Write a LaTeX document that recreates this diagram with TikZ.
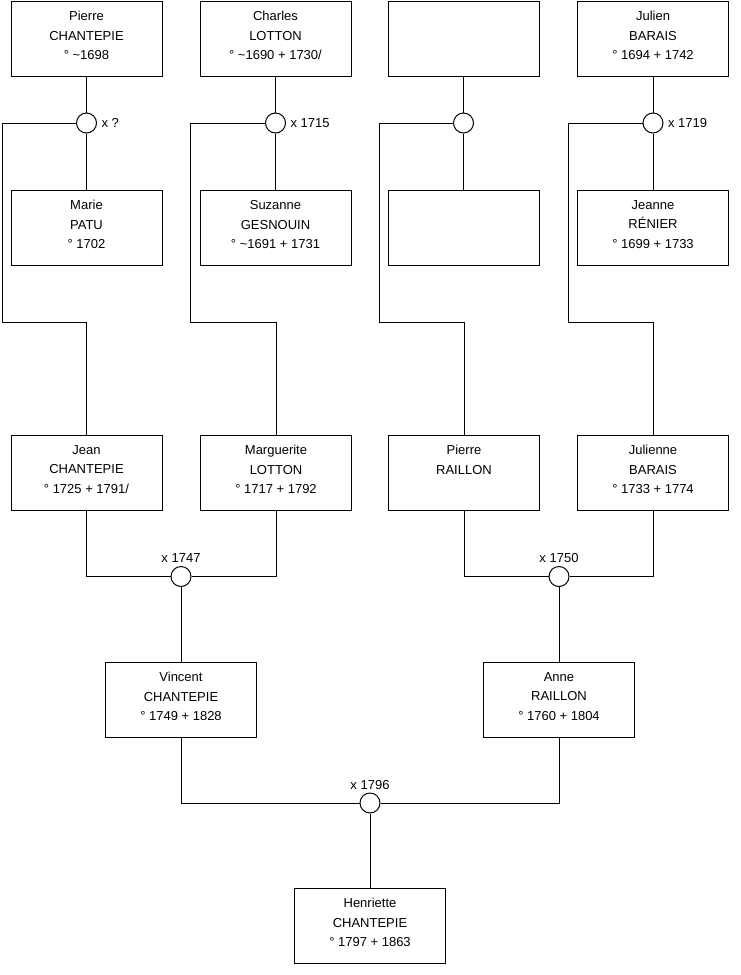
\documentclass[tikz,border=0pt]{standalone}
\usepackage{fontspec}
\setmainfont{Liberation Sans}
\begin{document}
\begin{tikzpicture}[x=1pt,y=-1pt,line width=1pt,
  person/.style={draw, minimum width=151pt, minimum height=75pt, inner sep=0pt, align=center,
                 text depth=6pt, font=\fontsize{13}{19.5}\selectfont},
  union/.style={draw, circle, minimum size=20pt, inner sep=0pt, fill=white},
  lab/.style={font=\fontsize{13}{15}\selectfont, inner sep=0pt},
  link/.style={draw, line width=1pt}]
\useasboundingbox (0,0) rectangle (740,975);

% generation 1
\node[person] (p1) at (86.5,38.5) {Pierre\\CHANTEPIE\\° \textasciitilde1698};
\node[person] (p2) at (275.5,38.5) {Charles\\LOTTON\\° \textasciitilde1690 + 1730/};
\node[person] (p3) at (463.5,38.5) {};
\node[person] (p4) at (653,38.5) {Julien\\BARAIS\\° 1694 + 1742};

\node[person] (m1) at (86.5,227.5) {Marie\\PATU\\° 1702};
\node[person] (m2) at (275.5,227.5) {Suzanne\\GESNOUIN\\° \textasciitilde1691 + 1731};
\node[person] (m3) at (463.5,227.5) {};
\node[person] (m4) at (653,227.5) {Jeanne\\RÉNIER\\° 1699 + 1733};

% unions gen 1
\node[union] (u1) at (86.5,123) {};
\node[union] (u2) at (275.5,123) {};
\node[union] (u3) at (463.5,123) {};
\node[union] (u4) at (653,123) {};
\node[lab, anchor=west] (l1) at ([xshift=4pt]u1.east) {x ?};
\node[lab, anchor=west] (l2) at ([xshift=4pt]u2.east) {x 1715};
\node[lab, anchor=west] (l4) at ([xshift=4pt]u4.east) {x 1719};

% generation 2
\node[person] (c1) at (86.5,472.5) {Jean\\CHANTEPIE\\° 1725 + 1791/};
\node[person] (c2) at (276,472.5) {Marguerite\\LOTTON\\° 1717 + 1792};
\node[person] (c3) at (464,472.5) {Pierre\\RAILLON\\\vphantom{0}};
\node[person] (c4) at (653,472.5) {Julienne\\BARAIS\\° 1733 + 1774};

\node[union] (u5) at (181,576.5) {};
\node[union] (u6) at (559,576.5) {};
\node[lab, anchor=base] (l5) at ([yshift=3.5pt]u5.north) {x 1747};
\node[lab, anchor=base] (l6) at ([yshift=3.5pt]u6.north) {x 1750};

% generation 3
\node[person] (v1) at (181,699.5) {Vincent\\CHANTEPIE\\° 1749 + 1828};
\node[person] (v2) at (559,699.5) {Anne\\RAILLON\\° 1760 + 1804};

\node[union] (u7) at (370,803) {};
\node[lab, anchor=base] (l7) at ([yshift=3.5pt]u7.north) {x 1796};

% generation 4
\node[person] (h1) at (370,925.5) {Henriette\\CHANTEPIE\\° 1797 + 1863};

% trunk corner coordinates
\coordinate (t1a) at (2,123);   \coordinate (t1b) at (2,322);
\coordinate (t2a) at (190,123); \coordinate (t2b) at (190,322);
\coordinate (t3a) at (379,123); \coordinate (t3b) at (379,322);
\coordinate (t4a) at (568,123); \coordinate (t4b) at (568,322);

% links gen 1
\foreach \i in {1,2,3,4}{
  \path[link] (p\i.south) -- (u\i.north);
  \path[link] (u\i.south) -- (m\i.north);
}
\path[link] (u1.west) -- (t1a) -- (t1b) -| (c1.north);
\path[link] (u2.west) -- (t2a) -- (t2b) -| (c2.north);
\path[link] (u3.west) -- (t3a) -- (t3b) -| (c3.north);
\path[link] (u4.west) -- (t4a) -- (t4b) -| (c4.north);

% links gen 2
\path[link] (c1.south) |- (u5.west);
\path[link] (c2.south) |- (u5.east);
\path[link] (c3.south) |- (u6.west);
\path[link] (c4.south) |- (u6.east);
\path[link] (u5.south) -- (v1.north);
\path[link] (u6.south) -- (v2.north);

% links gen 3
\path[link] (v1.south) |- (u7.west);
\path[link] (v2.south) |- (u7.east);
\path[link] (u7.south) -- (h1.north);
\end{tikzpicture}
\end{document}
